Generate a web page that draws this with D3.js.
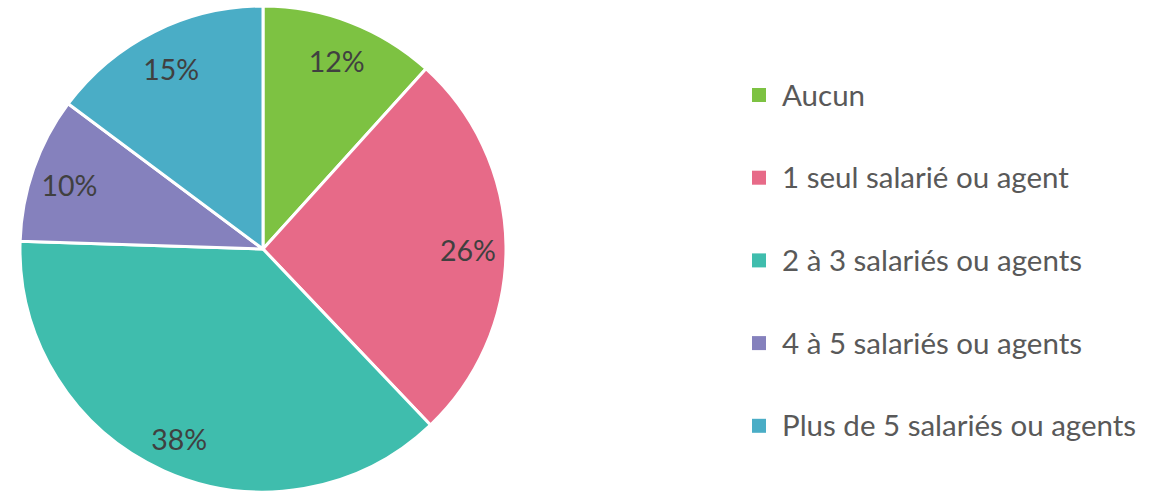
<!DOCTYPE html>
<html>
<head>
<meta charset="utf-8">
<script src="https://cdn.jsdelivr.net/npm/d3@7"></script>
<style>
  body { margin: 0; background: #fff; }
  text { font-family: Lato, "Noto Sans", sans-serif; }
</style>
</head>
<body>
<svg id="vis" width="1164" height="492"></svg>
<script>
// shares (labels are rounded)
let categories = ["Aucun", "1 seul salarié ou agent", "2 à 3 salariés ou agents",
                  "4 à 5 salariés ou agents", "Plus de 5 salariés ou agents"];
let values = [11.7, 26.2, 37.6, 9.7, 14.8];
let colors = ["#7dc242", "#e76a88", "#3fbdad", "#8581bd", "#4aadc6"];

let svg = d3.select("#vis");
let cx = 263, cy = 249, radius = 243;

let g = svg.append("g").attr("transform", `translate(${cx}, ${cy})`);

let pie = d3.pie().sort(null).value(d => d);
let arcs = pie(values);
let total = d3.sum(values);

let arc = d3.arc().innerRadius(0).outerRadius(radius);
let labelArc = d3.arc().innerRadius(205).outerRadius(205);

g.selectAll("path")
    .data(arcs)
    .enter().append("path")
    .attr("d", arc)
    .attr("fill", (d, i) => colors[i])
    .attr("stroke", "#fff")
    .attr("stroke-width", 3)
    .attr("stroke-linejoin", "round");

g.selectAll(".lbl")
    .data(arcs)
    .enter().append("text")
    .attr("class", "lbl")
    .attr("transform", d => {
        let c = labelArc.centroid(d);
        return `translate(${c[0]}, ${c[1] + 4})`;
    })
    .attr("text-anchor", "middle")
    .attr("dy", "0.36em")
    .attr("fill", "#404040")
    .attr("font-size", 28.5)
    .text(d => Math.round(d.value / total * 100) + "%");

// legend
let legend = svg.append("g").attr("transform", "translate(752, 95)");
let row = legend.selectAll("g")
    .data(categories)
    .enter().append("g")
    .attr("transform", (d, i) => `translate(0, ${i * 82.7})`);

row.append("rect")
    .attr("x", 0).attr("y", -7)
    .attr("width", 14).attr("height", 14)
    .attr("fill", (d, i) => colors[i]);

row.append("text")
    .attr("x", 30)
    .attr("dy", "0.36em")
    .attr("fill", "#595959")
    .attr("font-size", 29.5)
    .text(d => d);
</script>
</body>
</html>
